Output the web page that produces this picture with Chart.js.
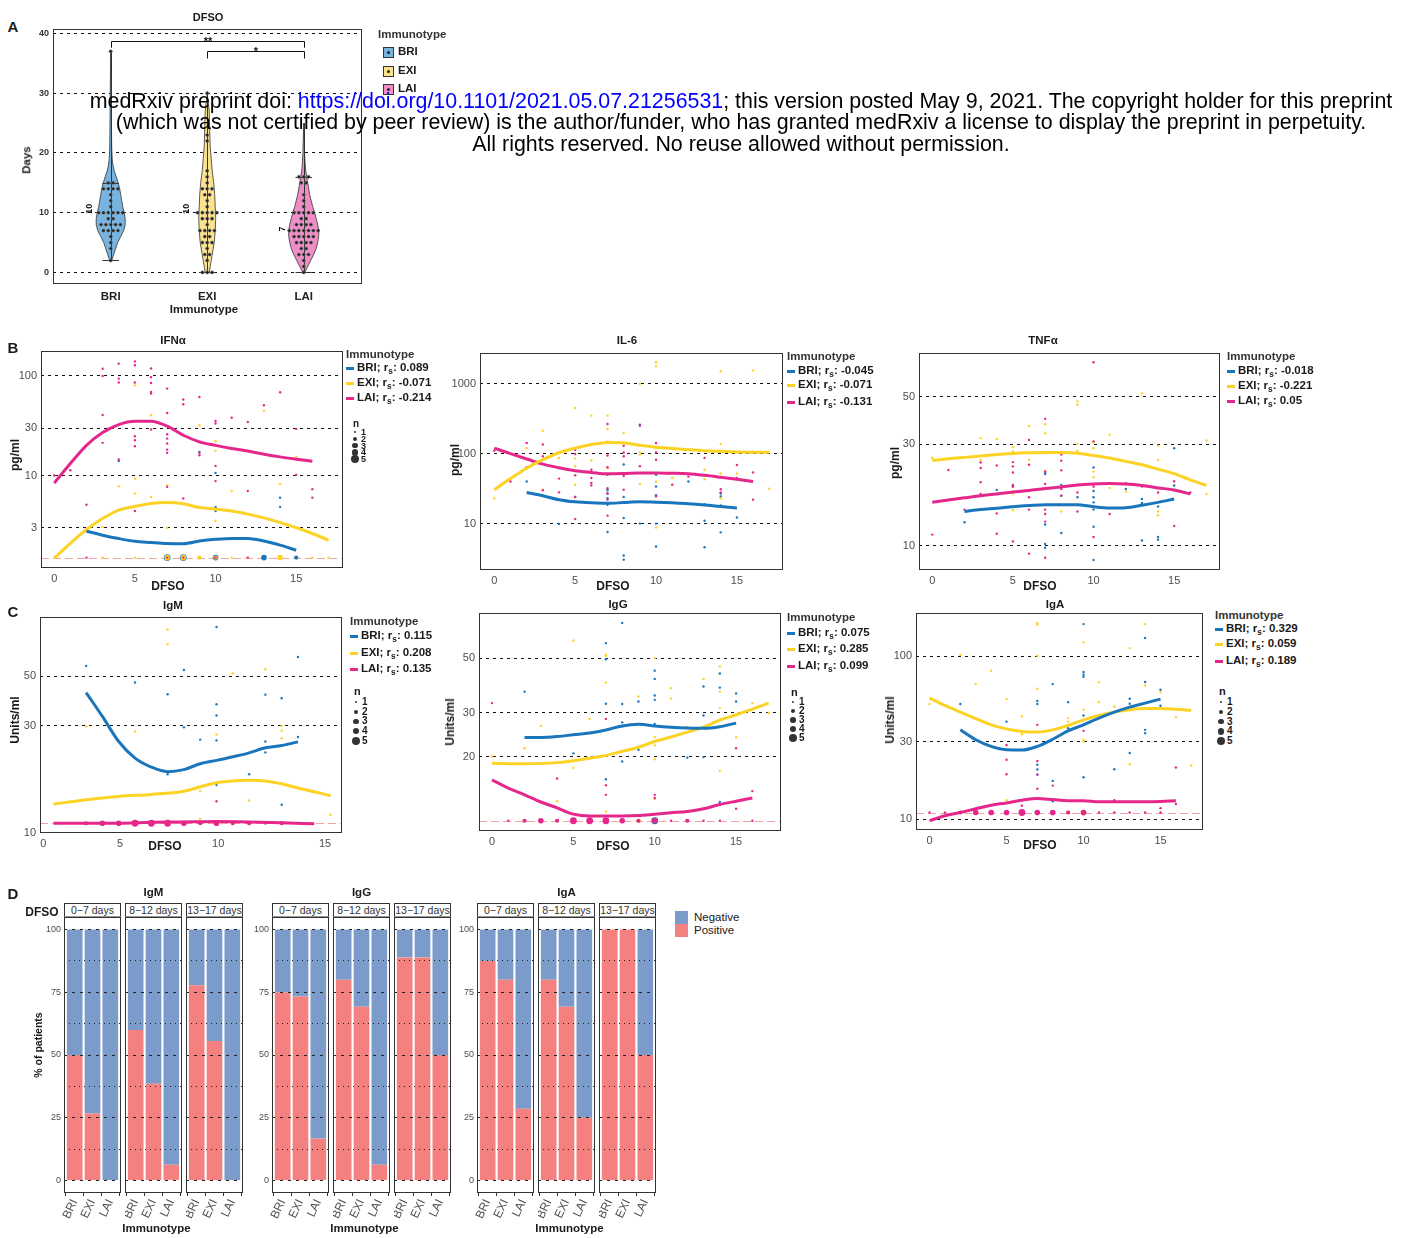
<!DOCTYPE html>
<html>
<head>
<meta charset="utf-8">
<script src="https://cdn.jsdelivr.net/npm/chart.js@4.4.0/dist/chart.umd.min.js"></script>
<style>
  body { margin: 0; width: 1411px; height: 1238px; position: relative; background: #fff; overflow: hidden;
         font-family: "Liberation Sans", Arial, Helvetica, sans-serif; }
  canvas { position: absolute; }
  .t { position: absolute; white-space: nowrap; color: #1a1a1a; line-height: 1; }
  .t sub { font-size: 0.72em; vertical-align: -0.3em; line-height: 0; }
  .blk { position: absolute; }
  #hdr div { position: absolute; left: 741px; transform: translate(-50%, -50%); white-space: nowrap; font-size: 21.4px; color: #000; z-index: 10; }
</style>
</head>
<body>
<script>
// ---------------------------------------------------------------- data

const GROUPS = ['BRI', 'EXI', 'LAI'];
const X_LABELS = ['0', '5', '10', '15'];

// A: DFSO per immunotype (days)
const aBRI = [37, 15, 15, 14, 14, 14, 14, 13, 12, 11, 10, 10, 10, 10, 10, 10, 9, 9, 8, 8, 8, 8, 8, 7, 7, 7, 7, 6, 5, 4, 2];
const aEXI = [30, 23, 22, 17, 16, 15, 14, 14, 14, 13, 13, 12, 11, 10, 10, 10, 10, 10, 9, 9, 9, 8, 7, 7, 7, 7, 6, 6, 5, 5, 5, 4, 3, 3, 2, 0, 0, 0];
const aLAI = [16, 16, 16, 15, 15, 13, 12, 11, 10, 10, 10, 10, 10, 9, 9, 8, 8, 8, 8, 7, 7, 7, 7, 7, 7, 7, 6, 6, 6, 6, 6, 5, 5, 5, 5, 4, 4, 3, 3, 3, 2, 1, 0];
const aMedian = [10, 10, 7];
// violin outline: [days, density]
const violinBRI = [[2, 1], [3, 3], [4, 5], [5, 7], [6, 10], [7, 13], [8, 14.5], [9, 14.5], [10, 13.5], [11, 12], [12, 11], [13, 10], [14, 9], [15, 7.5], [16, 5.5], [17, 3.5], [18, 2.2], [19, 1.5], [21, 1], [25, 0.7], [30, 0.5], [37, 0]];
const violinEXI = [[0, 2], [1, 3], [2, 4], [3, 5], [5, 7], [7, 8], [9, 8.5], [11, 8], [13, 7.5], [15, 6.5], [17, 5], [19, 4], [21, 3], [24, 2.5], [27, 2], [30, 0]];
const violinLAI = [[0, 1], [1, 4], [2, 7], [3, 10], [4, 12.5], [5, 14], [6, 15], [7, 15], [8, 14], [9, 12.5], [10, 11], [11, 9], [12, 7.5], [13, 6], [14, 5], [15, 4], [16, 3], [17, 2], [18, 1.5], [20, 0.8], [22, 0.5], [25, 0]];
const violinSpan = [[2, 37], [0, 30], [0, 25]];
const violinCaps = [[2, 15], [0], [0, 16]];
const sigBrackets = [[1, 3, 38.8, '**'], [2, 3, 37, '*']];

// B: cytokines vs DFSO, [dfso, value]
const ifnBRI = [[4, 14], [9, 17.3], [10, 10.6], [10, 4.8], [10, 4.4], [14, 6], [14, 4.85]];
const ifnEXI = [[3, 3.05], [4, 7.8], [5, 80.5], [5, 9.3], [5, 6.6], [6, 40.3], [6, 6.1], [7, 8], [7, 2.98], [9, 32], [10, 22.1], [10, 17.7], [10, 3.5], [11, 7], [13, 44.6], [14, 8.2], [15, 15.4]];
const ifnLAI = [[0, 10], [1, 11.3], [2, 5.1], [3, 118], [3, 100], [3, 40.6], [3, 21.3], [4, 133], [4, 94], [4, 86], [4, 14.5], [5, 140], [5, 128], [5, 86], [5, 24.8], [5, 22.6], [5, 19.7], [5, 4.4], [6, 119], [6, 97], [6, 85], [6, 69], [6, 66.5], [6, 29], [7, 74.6], [7, 42.5], [7, 26], [7, 23.5], [7, 21], [7, 18.2], [7, 16.9], [7, 7.7], [8, 58], [8, 52], [8, 5.9], [9, 61.5], [9, 16.9], [9, 16], [10, 35.3], [10, 33.3], [10, 12.5], [10, 8.8], [11, 38], [12, 34.5], [12, 7], [13, 50.8], [14, 68.5], [15, 29.4], [15, 10.2], [16, 7.3], [16, 6]];
// values at detection limit: [dfso, n]
const ifnLodBRI = [[7, 4], [8, 4], [10, 3], [13, 3], [15, 2]];
const ifnLodEXI = [[0, 1], [3, 1], [5, 1], [7, 3], [8, 3], [9, 2], [10, 2], [11, 1], [12, 1], [14, 3], [16, 1], [17, 1]];
const ifnLodLAI = [[2, 1], [7, 1], [8, 1], [10, 1], [12, 1]];
const ifnFitBRI = [[2, 2.76], [3, 2.52], [4, 2.33], [5, 2.19], [6, 2.13], [7, 2.08], [8, 2.07], [9, 2.2], [10, 2.29], [11, 2.34], [12, 2.34], [13, 2.2], [14, 2.0], [15, 1.78]];
const ifnFitEXI = [[0, 1.48], [1, 2.08], [2, 2.87], [3, 3.7], [4, 4.5], [5, 4.9], [6, 5.24], [7, 5.36], [8, 5.2], [9, 4.78], [10, 4.6], [11, 4.4], [12, 4.1], [13, 3.76], [14, 3.37], [15, 3.0], [16, 2.62], [17, 2.24]];
const ifnFitLAI = [[0, 8.4], [1, 13.2], [2, 20.1], [3, 27], [4, 32.5], [5, 35.1], [6, 35], [7, 31.3], [8, 25.4], [9, 21.8], [10, 20.1], [11, 18.7], [12, 17.6], [13, 16.4], [14, 15.4], [15, 14.6], [16, 13.9]];
const ifnRs = ['0.089', '-0.071', '-0.214'];

const il6BRI = [[2, 40], [4, 9.9], [5, 24], [7, 50], [7, 30], [7, 27], [7, 23], [7, 18.6], [7, 7.6], [8, 70], [8, 24], [8, 12], [8, 3.5], [8, 3.05], [9, 260], [9, 10], [10, 50], [10, 34], [10, 25.5], [10, 10], [10, 4.7], [12, 40], [13, 19], [13, 11], [13, 4.6], [14, 27], [14, 24.5], [14, 18.2], [14, 7.5], [15, 12.2]];
const il6EXI = [[0, 23], [2, 120], [3, 213], [3, 30.5], [4, 87], [5, 450], [5, 85], [5, 66], [5, 36], [6, 350], [6, 80], [7, 350], [7, 225], [7, 150], [7, 62], [8, 198], [9, 1000], [9, 105], [9, 97], [9, 37], [10, 2030], [10, 1780], [10, 120], [10, 40], [10, 8.8], [11, 45], [13, 59], [13, 43], [14, 1510], [14, 137], [14, 52], [14, 23], [15, 52], [16, 1550], [17, 31.5]];
const il6LAI = [[0, 110], [1, 40], [2, 142], [2, 64], [3, 135], [3, 92], [3, 30], [4, 44], [4, 28], [5, 114], [5, 99], [5, 49], [5, 24], [5, 11.6], [6, 59], [6, 54], [6, 45], [6, 38], [6, 35], [7, 266], [7, 94], [7, 64], [7, 32], [7, 27], [7, 22], [7, 13], [8, 130], [8, 104], [8, 92], [8, 48], [8, 30.5], [9, 250], [9, 66], [10, 142], [10, 104], [10, 82], [10, 24.5], [11, 36], [12, 47], [13, 87], [14, 31], [14, 28], [15, 69], [15, 45], [16, 54], [16, 22]];
const il6FitBRI = [[2, 27.9], [3, 25], [4, 22], [5, 20.5], [6, 19.8], [7, 19.5], [8, 20], [9, 20.5], [10, 20.2], [11, 19.8], [12, 19.3], [13, 18.5], [14, 17.5], [15, 16.7]];
const il6FitEXI = [[0, 30.5], [1, 44], [2, 62], [3, 82], [4, 103], [5, 120], [6, 135], [7, 145], [8, 143], [9, 132], [10, 124], [11, 119], [12, 114], [13, 110], [14, 108], [15, 106], [16, 105], [17, 105]];
const il6FitLAI = [[0, 120], [1, 100], [2, 84], [3, 71], [4, 63], [5, 57], [6, 54], [7, 51.5], [8, 52], [9, 53], [10, 53], [11, 52.5], [12, 51.5], [13, 49], [14, 46], [15, 43], [16, 40]];
const il6Rs = ['-0.045', '-0.071', '-0.131'];

const tnfBRI = [[2, 12.9], [4, 18.3], [5, 19], [7, 22.1], [7, 21.7], [7, 12.6], [7, 10.2], [7, 9.8], [8, 19.3], [8, 17.2], [8, 11.5], [9, 16.9], [10, 23.3], [10, 18.1], [10, 16.9], [10, 16], [10, 14.8], [10, 12.3], [10, 8.6], [12, 18.5], [13, 16.6], [13, 15.9], [13, 10.6], [14, 15.3], [14, 11], [14, 10.7], [15, 28.7], [15, 19.2]];
const tnfEXI = [[0, 25.9], [2, 26], [3, 32], [3, 25.3], [4, 31.7], [5, 29], [5, 27.7], [5, 17.5], [5, 14.7], [6, 36.5], [6, 25.3], [7, 37.2], [7, 33.7], [7, 27.2], [7, 22.5], [8, 14.5], [9, 47.6], [9, 45.9], [9, 30], [9, 27.9], [10, 30.5], [10, 28.7], [10, 22.3], [10, 21], [11, 33.2], [11, 18.7], [12, 18], [13, 52], [14, 29.5], [14, 25.3], [14, 14.5], [14, 13.9], [17, 31.2], [17, 17.5]];
const tnfLAI = [[0, 11.3], [1, 22.7], [2, 14.8], [3, 24.6], [3, 23.2], [3, 19.9], [3, 17.5], [4, 23.8], [4, 17.5], [4, 14.2], [4, 11.4], [5, 24.7], [5, 23.6], [5, 22.1], [5, 19.3], [5, 19], [5, 10.5], [6, 31.4], [6, 24], [6, 16.9], [6, 15.5], [6, 14.8], [6, 9.2], [7, 39.4], [7, 22.3], [7, 19.5], [7, 14.8], [7, 14.1], [7, 13], [7, 8.8], [8, 26.8], [8, 25.1], [8, 22.6], [8, 18.5], [8, 17.2], [9, 17.8], [9, 14.5], [10, 72.6], [10, 30.9], [10, 19], [10, 11], [11, 14.1], [12, 19.7], [13, 19], [14, 17.8], [15, 20.1], [15, 12.4], [16, 17.8]];
const tnfFitBRI = [[2, 14.5], [3, 14.8], [4, 15.0], [5, 15.25], [6, 15.45], [7, 15.6], [8, 15.6], [9, 15.6], [10, 15.25], [11, 15.05], [12, 15.1], [13, 15.5], [14, 16.0], [15, 16.6]];
const tnfFitEXI = [[0, 25.1], [1, 25.6], [2, 26], [3, 26.4], [4, 26.8], [5, 27.1], [6, 27.3], [7, 27.4], [8, 27.4], [9, 27.2], [10, 26.5], [11, 25.8], [12, 24.9], [13, 24], [14, 22.9], [15, 21.8], [16, 20.4], [17, 19.2]];
const tnfFitLAI = [[0, 16], [1, 16.4], [2, 16.8], [3, 17.2], [4, 17.5], [5, 17.9], [6, 18.2], [7, 18.6], [8, 18.9], [9, 19.3], [10, 19.5], [11, 19.6], [12, 19.5], [13, 19.2], [14, 18.7], [15, 18.3], [16, 17.5]];
const tnfRs = ['-0.018', '-0.221', '0.05'];

// C: antibodies vs DFSO
const igmBRI = [[2, 55.5], [5, 46.8], [7, 41.5], [7, 18.2], [8, 53.2], [8, 29.5], [9, 26], [10, 82.8], [10, 37.4], [10, 33.3], [10, 25.8], [10, 16.3], [12, 18.2], [13, 41.3], [13, 25.5], [13, 22.8], [14, 39.8], [14, 13.3], [15, 60.8], [15, 26.7]];
const igmEXI = [[2, 29.8], [5, 28.3], [7, 80.7], [7, 69.3], [9, 15.3], [9, 11.5], [10, 27.4], [11, 51.3], [12, 13.9], [13, 53.6], [14, 30], [14, 28.5], [14, 26.4], [17, 12]];
const igmLAI = [[10, 13.8]];
const igmLodBRI = [[7, 2], [8, 2], [10, 2], [13, 1]];
const igmLodEXI = [[2, 1], [4, 2], [5, 2], [7, 3], [9, 1], [10, 1], [12, 1]];
const igmLodLAI = [[2, 2], [3, 3], [4, 3], [5, 4], [6, 4], [7, 4], [8, 3], [9, 2], [10, 3], [11, 2], [12, 2], [13, 1], [14, 2], [15, 1]];
const igmFitBRI = [[2, 42.2], [3, 33], [4, 25.5], [5, 21.5], [6, 19.6], [7, 18.7], [8, 19.1], [9, 20.3], [10, 21], [11, 21.8], [12, 22.7], [13, 23.9], [14, 24.5], [15, 25.4]];
const igmFitEXI = [[0, 13.4], [2, 14], [4, 14.5], [6, 14.8], [8, 15.3], [9, 16], [10, 16.7], [11, 17], [12, 17.1], [13, 17], [14, 16.5], [15, 15.8], [16, 15.2], [17, 14.6]];
const igmFitLAI = [[0, 11], [2, 11], [4, 11], [6, 11.1], [8, 11.15], [10, 11.2], [12, 11.15], [14, 11.05], [16, 10.95]];
const igmXTicks = [-0.63, 4.08, 10.1, 16.66];
const igmRs = ['0.115', '0.208', '0.135'];

const iggBRI = [[2, 36.6], [5, 20.6], [7, 57.5], [7, 49.5], [7, 32.7], [7, 16.2], [8, 69.4], [8, 32.6], [8, 27.5], [8, 19.1], [9, 33.4], [9, 21.3], [10, 44.5], [10, 41.2], [10, 35.3], [10, 33.9], [10, 27.1], [12, 19.8], [13, 38.4], [13, 29.3], [13, 19.9], [14, 43.3], [14, 38], [14, 13.1], [15, 36], [15, 33.4]];
const iggEXI = [[0, 20], [2, 21.6], [3, 26.6], [4, 13.2], [5, 58.9], [5, 18], [6, 28.4], [7, 51.6], [7, 51], [7, 39.8], [7, 12], [9, 35], [10, 50], [10, 24], [10, 22.2], [10, 19.5], [10, 13.5], [11, 37.8], [11, 34.3], [12, 26.3], [13, 41.2], [14, 46.3], [14, 36.6], [14, 31.4], [14, 17.5], [15, 23.9], [16, 32.9], [17, 30]];
const iggLAI = [[0, 32.9], [4, 16.3], [7, 28.4], [7, 15.3], [7, 14], [10, 14], [10, 13.6], [15, 21.6], [15, 12.3], [16, 14.5]];
const iggLodBRI = [[7, 3], [8, 2], [10, 4]];
const iggLodEXI = [[2, 1], [5, 3], [6, 3], [8, 2], [9, 2]];
const iggLodLAI = [[1, 1], [2, 2], [3, 3], [4, 2], [5, 4], [6, 4], [7, 4], [8, 3], [9, 2], [10, 3], [11, 1], [12, 2], [13, 1], [14, 1], [16, 1]];
const iggFitBRI = [[2, 23.9], [3, 23.9], [4, 24.1], [5, 24.5], [6, 24.9], [7, 25.6], [8, 26.6], [9, 27], [10, 26.6], [11, 26.3], [12, 26.1], [13, 26], [14, 26.4], [15, 27.3]];
const iggFitEXI = [[0, 18.8], [2, 18.7], [4, 18.9], [6, 19.7], [7, 20.2], [8, 21], [9, 21.8], [10, 23], [11, 24], [12, 25.1], [13, 26.3], [14, 28.1], [15, 29.5], [16, 31.1], [17, 32.9]];
const iggFitLAI = [[0, 16.1], [1, 14.9], [2, 14], [3, 13.1], [4, 12.4], [5, 11.7], [6, 11.5], [7, 11.5], [8, 11.5], [9, 11.55], [10, 11.7], [11, 11.85], [12, 12], [13, 12.3], [14, 12.8], [15, 13.2], [16, 13.6]];
const iggRs = ['0.075', '0.285', '0.099'];

const igaBRI = [[2, 51], [5, 39.8], [7, 53.3], [7, 51], [7, 21.6], [7, 20.2], [7, 18.8], [8, 67.6], [8, 17.2], [8, 12.9], [9, 52.4], [9, 36.2], [10, 158], [10, 80.2], [10, 77.3], [10, 74.9], [10, 43.4], [10, 18.1], [12, 20.3], [13, 55], [13, 51.2], [13, 25.5], [14, 129.7], [14, 69.6], [14, 35.4], [14, 33.8], [15, 62.4], [15, 49.8]];
const igaEXI = [[0, 51], [2, 102], [3, 68], [4, 81.7], [5, 54.7], [5, 13.1], [6, 42.8], [6, 33.3], [7, 160], [7, 157], [7, 101], [7, 63.3], [9, 41.8], [9, 39.8], [10, 122], [10, 47], [10, 30.8], [10, 30], [11, 69.5], [11, 52.4], [12, 49.3], [13, 112.5], [13, 21.8], [14, 158], [14, 66.4], [15, 60.4], [16, 42.4], [17, 21.4]];
const igaLAI = [[5, 28.6], [5, 23.2], [5, 18.9], [6, 12.1], [7, 38], [7, 22.8], [7, 18.8], [7, 15.4], [8, 16.1], [10, 34.9], [12, 13.1], [15, 11.7], [16, 20.8], [16, 12.4]];
const igaLodBRI = [[4, 2], [8, 2], [10, 2]];
const igaLodEXI = [[3, 2], [5, 2], [7, 2], [9, 2], [10, 3]];
const igaLodLAI = [[0, 1], [1, 1], [2, 2], [3, 3], [4, 3], [5, 3], [6, 4], [7, 3], [8, 3], [9, 2], [10, 3], [11, 1], [12, 1], [13, 1], [14, 1], [15, 1]];
const igaFitBRI = [[2, 35.4], [3, 30.8], [4, 28], [5, 26.7], [6, 26.6], [7, 28], [8, 31], [9, 34.9], [10, 38], [11, 41.8], [12, 45.5], [13, 48.8], [14, 51.7], [15, 54.7]];
const igaFitEXI = [[0, 55.5], [1, 50], [2, 45.5], [3, 41.5], [4, 38], [5, 35.9], [6, 34.6], [7, 34.3], [8, 35.4], [9, 37.7], [10, 40.8], [11, 43.4], [12, 45.5], [13, 47], [14, 47.9], [15, 47.9], [16, 47.4], [17, 46.6]];
const igaFitLAI = [[0, 9.8], [1, 10.5], [2, 11], [3, 11.6], [4, 12.2], [5, 12.6], [6, 13.1], [7, 13.4], [8, 13.2], [9, 13], [10, 13], [11, 12.8], [12, 12.8], [13, 12.8], [14, 12.8], [15, 12.85], [16, 13]];
const igaRs = ['0.329', '0.059', '0.189'];

// D: % of patients positive / negative, per DFSO bin, per immunotype
const dBins = ['0\u22127 days', '8\u221212 days', '13\u221217 days'];
const dPosIgM = [[50, 26.7, 0], [60, 38.5, 6.25], [77.8, 55.6, 0]];
const dNegIgM = [[50, 73.3, 100], [40, 61.5, 93.75], [22.2, 44.4, 100]];
const dPosIgG = [[75, 73.3, 16.7], [80, 69.2, 6.25], [88.9, 88.9, 50]];
const dNegIgG = [[25, 26.7, 83.3], [20, 30.8, 93.75], [11.1, 11.1, 50]];
const dPosIgA = [[87.5, 80, 28.6], [80, 69.2, 25], [100, 100, 50]];
const dNegIgA = [[12.5, 20, 71.4], [20, 30.8, 75], [0, 0, 50]];
const dTicks = [0, 12.5, 25, 37.5, 50, 62.5, 75, 87.5, 100];

// ---------------------------------------------------------------- styles

const FONT = '"Liberation Sans", Arial, Helvetica, sans-serif';
const COL = ['#1a76bc', '#fcd225', '#e5278c'];
const VFILL = ['#78b4e0', '#fbe28c', '#f08dc6'];
const POS_COL = '#f4817f';
const NEG_COL = '#7b9bca';
const TICK_COL = '#4d4d4d';
const R = [0, 1.2, 2.1, 2.8, 3.4, 4];   // point radius by n

Chart.defaults.font.family = FONT;

// ---------------------------------------------------------------- helpers

function mkCanvas(l, t, w, h) {
  const c = document.createElement('canvas');
  c.width = w; c.height = h;
  c.style.left = l + 'px'; c.style.top = t + 'px';
  c.style.width = w + 'px'; c.style.height = h + 'px';
  document.body.appendChild(c);
  return c;
}

function txt(html, x, y, o = {}) {
  const d = document.createElement('div');
  d.className = 't';
  d.innerHTML = html;
  d.style.left = x + 'px';
  d.style.top = y + 'px';
  d.style.fontSize = (o.size || 11) + 'px';
  d.style.fontWeight = o.bold ? 'bold' : 'normal';
  if (o.color) d.style.color = o.color;
  const ax = o.align === 'left' ? '0' : o.align === 'right' ? '-100%' : '-50%';
  d.style.transform = `translate(${ax}, -50%)` + (o.rot ? ` rotate(${o.rot}deg)` : '');
  document.body.appendChild(d);
  return d;
}

function blk(l, t, w, h, css) {
  const d = document.createElement('div');
  d.className = 'blk';
  Object.assign(d.style, {left: l + 'px', top: t + 'px', width: w + 'px', height: h + 'px'}, css);
  document.body.appendChild(d);
  return d;
}

function mkChart(cv, cfg) {
  cfg.options = Object.assign({responsive: false, animation: false, devicePixelRatio: 1, events: []}, cfg.options);
  cfg.options.plugins = Object.assign({legend: {display: false}, tooltip: {enabled: false}}, cfg.options.plugins || {});
  return new Chart(cv, cfg);
}

const framePlugin = {
  id: 'frame',
  afterDraw(chart) {
    const {ctx, chartArea: a} = chart;
    ctx.save();
    ctx.strokeStyle = '#333';
    ctx.lineWidth = 1;
    ctx.strokeRect(Math.round(a.left) + 0.5, Math.round(a.top) + 0.5, Math.round(a.width) - 1, Math.round(a.height) - 1);
    ctx.restore();
  }
};

function lodPlugin(value) {
  return {
    id: 'lod',
    beforeDatasetsDraw(chart) {
      if (value == null) return;
      const {ctx, chartArea: a, scales: {y}} = chart;
      const py = Math.round(y.getPixelForValue(value)) + 0.5;
      ctx.save();
      ctx.strokeStyle = '#f4a3a3';
      ctx.lineWidth = 1;
      ctx.setLineDash([8, 4]);
      ctx.beginPath(); ctx.moveTo(a.left, py); ctx.lineTo(a.right, py); ctx.stroke();
      ctx.restore();
    }
  };
}

// ---------------------------------------------------------------- panel A

function violinPanel() {
  const [l, t, r, b] = [53, 29, 362, 284];
  const YW = 30, PT = 12, PR = 10, XH = 26;
  const cv = mkCanvas(l - YW, t - PT, r - l + YW + PR, b - t + PT + XH);
  const VS = 1 / 96.5;
  const violins = [violinBRI, violinEXI, violinLAI];

  function spread(vals, cx) {
    const cnt = {}, seen = {};
    vals.forEach(v => { cnt[v] = (cnt[v] || 0) + 1; });
    return vals.map(v => {
      const k = cnt[v];
      const j = (seen[v] = (seen[v] || 0) + 1) - 1;
      return {x: cx + (j - (k - 1) / 2) * 0.05, y: v};
    });
  }

  const violinDraw = {
    id: 'violins',
    beforeDatasetsDraw(chart) {
      const {ctx, scales: {x, y}} = chart;
      violins.forEach((dens, gi) => {
        const cx = gi + 1;
        ctx.save();
        ctx.beginPath();
        dens.forEach(([v, w], k) => {
          const px = x.getPixelForValue(cx - w * VS), py = y.getPixelForValue(v);
          k ? ctx.lineTo(px, py) : ctx.moveTo(px, py);
        });
        for (let k = dens.length - 1; k >= 0; k--) {
          const [v, w] = dens[k];
          ctx.lineTo(x.getPixelForValue(cx + w * VS), y.getPixelForValue(v));
        }
        ctx.closePath();
        ctx.fillStyle = VFILL[gi];
        ctx.fill();
        ctx.strokeStyle = '#333';
        ctx.lineWidth = 0.8;
        ctx.stroke();
        // span line and caps
        const px = Math.round(x.getPixelForValue(cx)) + 0.5;
        ctx.lineWidth = 1;
        ctx.beginPath();
        ctx.moveTo(px, y.getPixelForValue(violinSpan[gi][0]));
        ctx.lineTo(px, y.getPixelForValue(violinSpan[gi][1]));
        violinCaps[gi].forEach(v => {
          const py = Math.round(y.getPixelForValue(v)) + 0.5;
          ctx.moveTo(x.getPixelForValue(cx - 0.085), py);
          ctx.lineTo(x.getPixelForValue(cx + 0.085), py);
        });
        ctx.stroke();
        ctx.restore();
      });
    },
    afterDatasetsDraw(chart) {
      const {ctx, scales: {x, y}} = chart;
      ctx.save();
      ctx.strokeStyle = '#111';
      ctx.fillStyle = '#111';
      ctx.lineWidth = 1;
      sigBrackets.forEach(([g1, g2, v, lab]) => {
        const x1 = Math.round(x.getPixelForValue(g1)) + 0.5, x2 = Math.round(x.getPixelForValue(g2)) + 0.5;
        const py = Math.round(y.getPixelForValue(v)) + 0.5, pt = y.getPixelForValue(v - 1.2);
        ctx.beginPath();
        ctx.moveTo(x1, pt); ctx.lineTo(x1, py); ctx.lineTo(x2, py); ctx.lineTo(x2, pt);
        ctx.stroke();
        ctx.font = 'bold 11px ' + FONT;
        ctx.textAlign = 'center';
        ctx.textBaseline = 'alphabetic';
        ctx.fillText(lab, (x1 + x2) / 2, py + 3);
      });
      aMedian.forEach((m, gi) => {
        ctx.save();
        ctx.translate(x.getPixelForValue(gi + 1 - 0.215), y.getPixelForValue(m) + 1);
        ctx.rotate(-Math.PI / 2);
        ctx.font = 'bold 9px ' + FONT;
        ctx.textAlign = 'left';
        ctx.textBaseline = 'middle';
        ctx.fillText(String(m), 0, 0);
        ctx.restore();
      });
      ctx.restore();
    }
  };

  mkChart(cv, {
    type: 'scatter',
    data: {
      datasets: [aBRI, aEXI, aLAI].map((vals, gi) => ({
        data: spread(vals, gi + 1),
        pointBackgroundColor: '#1c1c1c', pointBorderColor: '#777', pointBorderWidth: 0.6, pointRadius: 1.6
      }))
    },
    options: {
      layout: {padding: {top: PT, right: PR, left: 0, bottom: 0}},
      scales: {
        x: {
          type: 'linear', min: 0.402, max: 3.604,
          afterBuildTicks: s => { s.ticks = [1, 2, 3].map(v => ({value: v})); },
          afterFit: s => { s.height = XH; },
          ticks: {autoSkip: false, maxRotation: 0, padding: 6, color: '#222', font: {size: 11.5, weight: 'bold'}, callback: (v, i) => GROUPS[i]},
          grid: {display: false, drawTicks: false}, border: {display: false}
        },
        y: {
          type: 'linear', min: -1.94, max: 40.74,
          afterBuildTicks: s => { s.ticks = [0, 10, 20, 30, 40].map(v => ({value: v})); },
          afterFit: s => { s.width = YW; },
          ticks: {padding: 4, color: '#333', font: {size: 9, weight: 'bold'}},
          grid: {color: '#111', lineWidth: 1, drawTicks: false},
          border: {display: false, dash: [3, 4]}
        }
      }
    },
    plugins: [violinDraw, framePlugin]
  });

  txt('A', 13, 26, {bold: true, size: 15});
  txt('DFSO', 208, 17, {bold: true});
  txt('Immunotype', 204, 310, {bold: true, size: 11.5});
  txt('Days', 27, 160, {bold: true, size: 11.5, rot: -90});
  txt('Immunotype', 378, 35, {bold: true, size: 11.5, align: 'left', color: '#333'});
  GROUPS.forEach((g, i) => {
    const y = [52, 71, 89][i];
    blk(383, y - 5.5, 9, 9, {background: VFILL[i], border: '1px solid #333'});
    blk(386.5, y - 1.5, 3, 3, {background: '#222', borderRadius: '50%'});
    txt(g, 398, y, {bold: true, size: 11.5, align: 'left'});
  });
}

// ---------------------------------------------------------------- panels B and C

const PANELS = [
  {box: [41, 351, 343, 568], x: [-0.82, 17.9], xt: [0, 5, 10, 15], y: [1.18, 178], yt: [3, 10, 30, 100], lod: 1.5,
   pts: [ifnBRI, ifnEXI, ifnLAI], lods: [ifnLodBRI, ifnLodEXI, ifnLodLAI], fits: [ifnFitBRI, ifnFitEXI, ifnFitLAI],
   title: ['IFN\u03b1', 173, 341], xlab: [168, 586], ylab: ['pg/ml', 15, 455],
   leg: {x: 346, title: 355, ys: [368, 383, 398], rs: ifnRs, n: {y0: 432, dy: 6.8, x: 355, size: 9}}},
  {box: [480, 353, 783, 570], x: [-0.885, 17.85], xt: [0, 5, 10, 15], y: [2.17, 2754], yt: [10, 100, 1000], lod: null,
   pts: [il6BRI, il6EXI, il6LAI], lods: null, fits: [il6FitBRI, il6FitEXI, il6FitLAI],
   title: ['IL-6', 627, 341], xlab: [613, 586], ylab: ['pg/ml', 455, 460],
   leg: {x: 787, title: 357, ys: [371, 385, 402], rs: il6Rs}},
  {box: [919, 353, 1220, 570], x: [-0.82, 17.84], xt: [0, 5, 10, 15], y: [7.71, 80.2], yt: [10, 30, 50], lod: null,
   pts: [tnfBRI, tnfEXI, tnfLAI], lods: null, fits: [tnfFitBRI, tnfFitEXI, tnfFitLAI],
   title: ['TNF\u03b1', 1043, 341], xlab: [1040, 586], ylab: ['pg/ml', 895, 463],
   leg: {x: 1227, title: 357, ys: [371, 386, 401], rs: tnfRs}},
  {box: [40, 617, 342, 833], x: [-0.83, 17.7], xt: igmXTicks, y: [9.95, 91.8], yt: [10, 30, 50], lod: 11,
   pts: [igmBRI, igmEXI, igmLAI], lods: [igmLodBRI, igmLodEXI, igmLodLAI], fits: [igmFitBRI, igmFitEXI, igmFitLAI],
   title: ['IgM', 173, 606], xlab: [165, 846], ylab: ['Units/ml', 15, 720],
   leg: {x: 350, title: 622, ys: [636, 653, 669], rs: igmRs, n: {y0: 702, dy: 9.7, x: 356, size: 10}}},
  {box: [479, 613, 781, 831], x: [-0.8, 17.76], xt: [0, 5, 10, 15], y: [10.0, 76.1], yt: [20, 30, 50], lod: 11,
   pts: [iggBRI, iggEXI, iggLAI], lods: [iggLodBRI, iggLodEXI, iggLodLAI], fits: [iggFitBRI, iggFitEXI, iggFitLAI],
   title: ['IgG', 618, 605], xlab: [613, 846], ylab: ['Units/ml', 450, 722],
   leg: {x: 787, title: 618, ys: [633, 649, 666], rs: iggRs, n: {y0: 702, dy: 9, x: 793, size: 10}}},
  {box: [916, 613, 1203, 830], x: [-0.88, 17.76], xt: [0, 5, 10, 15], y: [8.59, 184.8], yt: [10, 30, 100], lod: 11,
   pts: [igaBRI, igaEXI, igaLAI], lods: [igaLodBRI, igaLodEXI, igaLodLAI], fits: [igaFitBRI, igaFitEXI, igaFitLAI],
   title: ['IgA', 1055, 605], xlab: [1040, 845], ylab: ['Units/ml', 890, 720],
   leg: {x: 1215, title: 616, ys: [629, 644, 661], rs: igaRs, n: {y0: 702, dy: 9.75, x: 1221, size: 10}}}
];

function scatterPanel(p) {
  const [l, t, r, b] = p.box;
  const YW = 40, PT = 12, PR = 10, XH = 22;
  const cv = mkCanvas(l - YW, t - PT, r - l + YW + PR, b - t + PT + XH);
  const datasets = [];
  p.fits.forEach((f, i) => datasets.push({
    type: 'line', data: f.map(([x, y]) => ({x, y})), borderColor: COL[i], borderWidth: 3,
    pointRadius: 0, cubicInterpolationMode: 'monotone', fill: false, order: 0
  }));
  p.pts.forEach((pts, i) => {
    const data = pts.map(([x, y]) => ({x, y, n: 1}));
    if (p.lods) p.lods[i].forEach(([x, n]) => data.push({x, y: p.lod, n}));
    datasets.push({
      type: 'scatter', data, pointBackgroundColor: COL[i], pointBorderWidth: 0,
      pointRadius: c => R[(c.raw && c.raw.n) || 1], order: 3 - i
    });
  });
  mkChart(cv, {
    type: 'scatter',
    data: {datasets},
    options: {
      layout: {padding: {top: PT, right: PR, left: 0, bottom: 0}},
      scales: {
        x: {
          type: 'linear', min: p.x[0], max: p.x[1],
          afterBuildTicks: s => { s.ticks = p.xt.map(v => ({value: v})); },
          afterFit: s => { s.height = XH; },
          ticks: {autoSkip: false, maxRotation: 0, padding: 4, color: TICK_COL, font: {size: 11}, callback: (v, i) => X_LABELS[i]},
          grid: {display: false, drawTicks: false}, border: {display: false}
        },
        y: {
          type: 'logarithmic', min: p.y[0], max: p.y[1],
          afterBuildTicks: s => { s.ticks = p.yt.map(v => ({value: v})); },
          afterFit: s => { s.width = YW; },
          ticks: {padding: 4, color: TICK_COL, font: {size: 11}, callback: v => String(v)},
          grid: {color: '#111', lineWidth: 1, drawTicks: false},
          border: {display: false, dash: [3, 4]}
        }
      }
    },
    plugins: [lodPlugin(p.lod), framePlugin]
  });

  txt(p.title[0], p.title[1], p.title[2], {bold: true, size: 11.5});
  txt('DFSO', p.xlab[0], p.xlab[1], {bold: true, size: 12});
  txt(p.ylab[0], p.ylab[1], p.ylab[2], {bold: true, size: 12, rot: -90});

  const lg = p.leg;
  txt('Immunotype', lg.x, lg.title, {bold: true, size: 11.5, align: 'left', color: '#333'});
  GROUPS.forEach((g, i) => {
    blk(lg.x, lg.ys[i] - 1.5, 8, 3, {background: COL[i]});
    txt(`${g}; r<sub>s</sub>: ${lg.rs[i]}`, lg.x + 11, lg.ys[i], {bold: true, size: 11.5, align: 'left'});
  });
  if (lg.n) {
    const n = lg.n;
    txt('n', n.x - 2, n.y0 - n.dy - 1.5, {bold: true, size: n.size + 1, align: 'left'});
    for (let k = 1; k <= 5; k++) {
      const cy = n.y0 + (k - 1) * n.dy;
      blk(n.x - R[k], cy - R[k], 2 * R[k], 2 * R[k], {background: '#333', borderRadius: '50%'});
      txt(String(k), n.x + 6, cy, {bold: true, size: n.size, align: 'left'});
    }
  }
}

// ---------------------------------------------------------------- panel D

const FACET_W = 57, FACET_T = 917, FACET_B = 1193;
const D_GROUPS = [
  {name: 'IgM', xs: [64, 125, 186], pos: dPosIgM, neg: dNegIgM},
  {name: 'IgG', xs: [272, 333, 394], pos: dPosIgG, neg: dNegIgG},
  {name: 'IgA', xs: [477, 538, 599], pos: dPosIgA, neg: dNegIgA}
];

function facet(fx, pos, neg, showY, label) {
  const YW = showY ? 24 : 0, PT = 12, PR = 12, XH = 30;
  const cv = mkCanvas(fx - YW, FACET_T - PT, FACET_W + YW + PR, FACET_B - FACET_T + PT + XH);
  const bar = (vals, color) => ({
    data: vals.map((v, i) => ({x: i + 1, y: v})), backgroundColor: color,
    borderWidth: 0, barPercentage: 0.88, categoryPercentage: 1
  });
  mkChart(cv, {
    type: 'bar',
    data: {datasets: [bar(pos, POS_COL), bar(neg, NEG_COL)]},
    options: {
      layout: {padding: {top: PT, right: PR, left: 0, bottom: 0}},
      scales: {
        x: {
          type: 'linear', min: 0.4, max: 3.6, stacked: true, offset: false,
          afterBuildTicks: s => { s.ticks = [1, 2, 3].map(v => ({value: v})); },
          afterFit: s => { s.height = XH; },
          ticks: {autoSkip: false, minRotation: 65, maxRotation: 65, padding: 1, color: TICK_COL, font: {size: 12}, callback: (v, i) => GROUPS[i]},
          grid: {drawOnChartArea: false, drawTicks: true, tickLength: 3, color: '#333'},
          border: {display: false}
        },
        y: {
          min: -5, max: 105, stacked: true,
          afterBuildTicks: s => { s.ticks = dTicks.map(v => ({value: v})); },
          afterFit: s => { s.width = YW; },
          ticks: {display: showY, padding: 3, color: TICK_COL, font: {size: 9}, callback: v => (v % 25 === 0 ? String(v) : '')},
          grid: {color: '#222', lineWidth: 1, drawTicks: false, z: 1},
          border: {display: false, dash: c => (c.tick && c.tick.value % 25 === 0 ? [3, 5] : [1, 4])}
        }
      }
    },
    plugins: [framePlugin]
  });
  const s = blk(fx, 903, FACET_W, 14, {
    boxSizing: 'border-box', border: '1px solid #333', borderBottom: '1px solid #999', background: '#fff',
    font: '10.5px ' + FONT, color: '#333', textAlign: 'center', lineHeight: '12px'
  });
  s.textContent = label;
}

function barPanel() {
  D_GROUPS.forEach(g => {
    g.xs.forEach((fx, f) => facet(fx, g.pos[f], g.neg[f], f === 0, dBins[f]));
    const cx = (g.xs[0] + g.xs[2] + FACET_W) / 2;
    txt(g.name, cx, 893, {bold: true, size: 11.5});
    txt('Immunotype', cx + 3, 1229, {bold: true, size: 11.5});
  });
  txt('D', 13, 893, {bold: true, size: 15});
  txt('DFSO', 42, 912, {bold: true, size: 12});
  txt('% of patients', 38, 1045, {bold: true, size: 10.5, rot: -90});
  blk(675, 911, 13, 13, {background: NEG_COL});
  blk(675, 924, 13, 13, {background: POS_COL});
  txt('Negative', 694, 917.5, {align: 'left', size: 11.5});
  txt('Positive', 694, 930.5, {align: 'left', size: 11.5});
}

// ---------------------------------------------------------------- build

violinPanel();
PANELS.forEach(scatterPanel);
txt('B', 13, 347, {bold: true, size: 15});
txt('C', 13, 611, {bold: true, size: 15});
barPanel();

const hdr = document.createElement('div');
hdr.id = 'hdr';
hdr.innerHTML =
  '<div style="top:101px">medRxiv preprint doi: <span style="color:#0000ff">https://doi.org/10.1101/2021.05.07.21256531</span>; this version posted May 9, 2021. The copyright holder for this preprint</div>' +
  '<div style="top:122px">(which was not certified by peer review) is the author/funder, who has granted medRxiv a license to display the preprint in perpetuity.</div>' +
  '<div style="top:144px">All rights reserved. No reuse allowed without permission.</div>';
document.body.appendChild(hdr);
</script>
</body>
</html>
